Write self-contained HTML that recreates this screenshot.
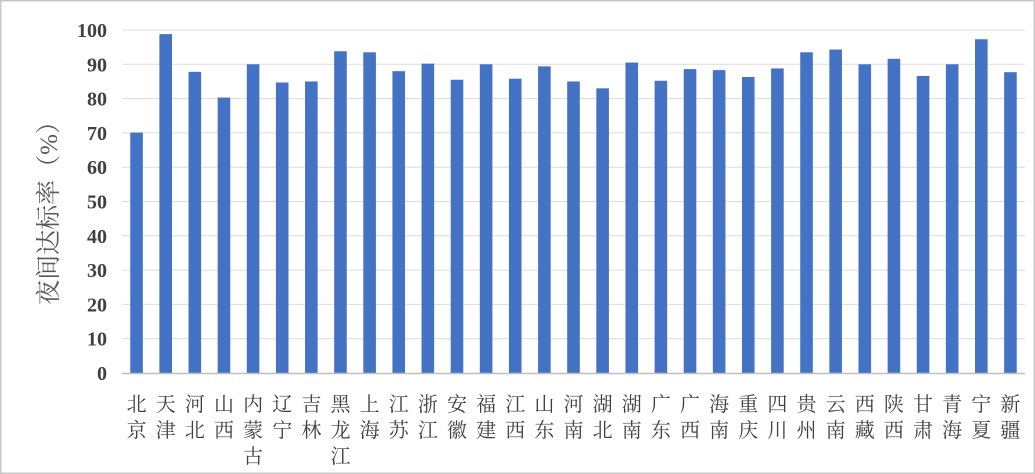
<!DOCTYPE html>
<html><head><meta charset="utf-8"><style>
html,body{margin:0;padding:0;background:#fff;}
svg{display:block;}
</style></head><body>
<svg width="1035" height="474" xmlns="http://www.w3.org/2000/svg">
<rect x="0.5" y="0.5" width="1034" height="473" fill="#fff" stroke="#c8c8c8" stroke-width="2"/>
<g id="grid" stroke="#dcdcdc" stroke-width="1"></g>
<g id="bars" fill="#4472c4"></g>
<line x1="122" y1="373.5" x2="1025" y2="373.5" stroke="#bfbfbf" stroke-width="1.5"/>
<g id="yt" font-family="'Liberation Serif',serif" font-weight="bold" font-size="20" fill="#404040" text-anchor="end"></g>
<g id="xl" font-family="'Liberation Serif','Noto Serif CJK SC',serif" font-size="20" fill="#404040" text-anchor="middle"></g>
<text transform="translate(57,207) rotate(-90)" text-anchor="middle" font-family="'Liberation Serif','Noto Serif CJK SC',serif" font-size="25" fill="#595959">夜间达标率（%）</text>
</svg>
<script>
var ns="http://www.w3.org/2000/svg";
var L=122,R=1025,Y0=373,Y100=30;
function y(v){return Y0-(Y0-Y100)*v/100;}
var g=document.getElementById('grid'),yt=document.getElementById('yt');
for(var v=0;v<=100;v+=10){
 if(v>0){var l=document.createElementNS(ns,'line');l.setAttribute('x1',L);l.setAttribute('x2',R);l.setAttribute('y1',y(v));l.setAttribute('y2',y(v));g.appendChild(l);}
 var t=document.createElementNS(ns,'text');t.setAttribute('x',107);t.setAttribute('y',y(v)+7);t.textContent=v;yt.appendChild(t);
}
var names=["北京","天津","河北","山西","内蒙古","辽宁","吉林","黑龙江","上海","江苏","浙江","安徽","福建","江西","山东","河南","湖北","湖南","广东","广西","海南","重庆","四川","贵州","云南","西藏","陕西","甘肃","青海","宁夏","新疆"];
var vals=[70.1,98.8,87.8,80.3,90.0,84.7,85.0,93.8,93.5,88.0,90.2,85.5,90.0,85.8,89.4,85.0,83.0,90.5,85.2,88.6,88.3,86.3,88.8,93.5,94.3,90.0,91.6,86.6,90.0,97.3,87.7];
var bw=(R-L)/31,b=document.getElementById('bars'),xl=document.getElementById('xl');
for(var i=0;i<31;i++){
 var cx=L+bw*(i+0.5);
 var r=document.createElementNS(ns,'rect');r.setAttribute('x',cx-6.3);r.setAttribute('width',12.6);r.setAttribute('y',y(vals[i]));r.setAttribute('height',Y0-y(vals[i]));b.appendChild(r);
 for(var k=0;k<names[i].length;k++){var t=document.createElementNS(ns,'text');t.setAttribute('x',cx);t.setAttribute('y',411+k*26);t.textContent=names[i][k];xl.appendChild(t);}
}
</script>
</body></html>
